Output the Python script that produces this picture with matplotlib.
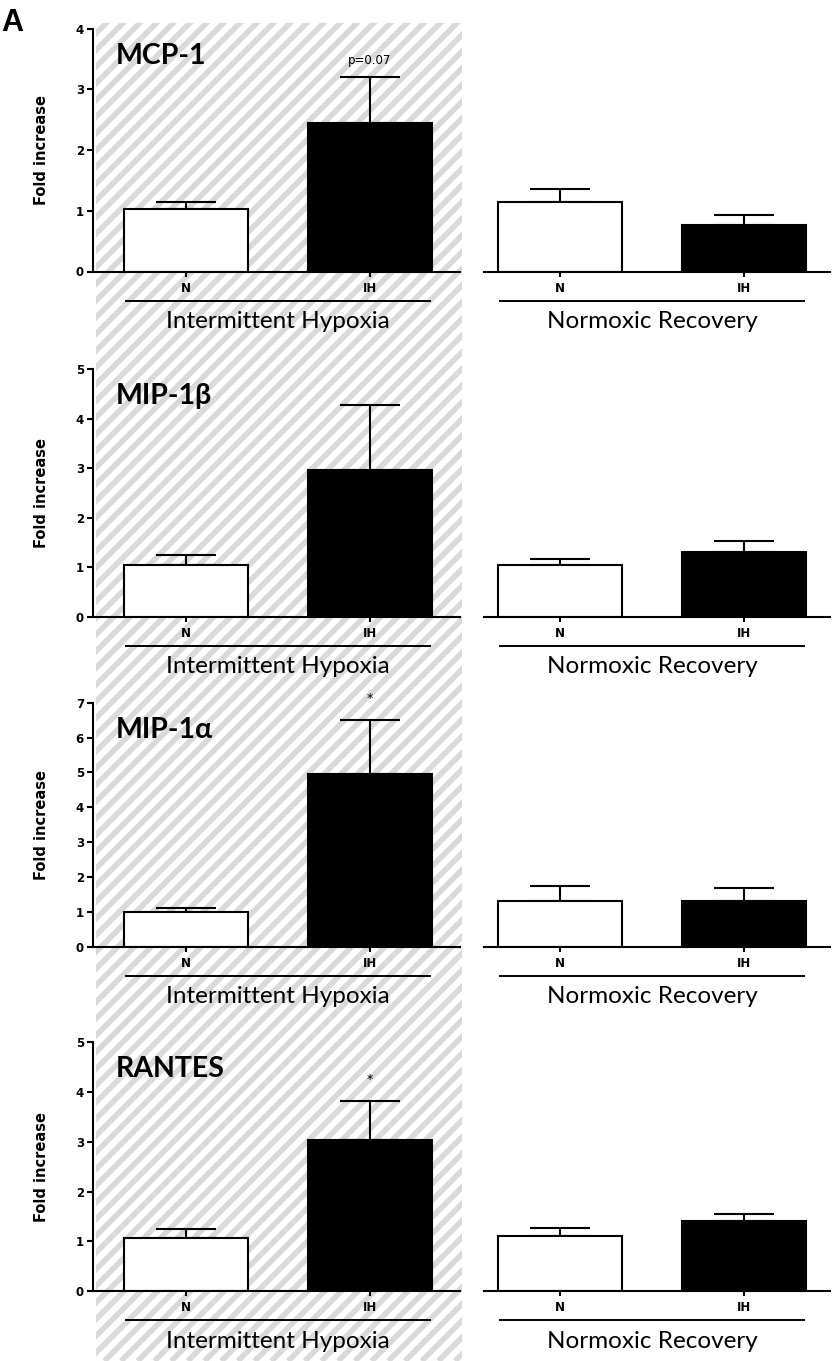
import numpy as np
import matplotlib
matplotlib.use("Agg")
from matplotlib import pyplot as plt
from matplotlib.patches import Rectangle
from matplotlib.transforms import offset_copy

# data (fold increase, mean and SEM)
cytokines = ["MCP-1", "MIP-1β", "MIP-1α", "RANTES"]
y_max = [4, 5, 7, 5]
groups = ["N", "IH"]

ih_n_mean = [1.03, 1.05, 1.00, 1.06]
ih_n_sem = [0.12, 0.19, 0.11, 0.19]
ih_ih_mean = [2.45, 2.96, 4.95, 3.04]
ih_ih_sem = [0.75, 1.32, 1.55, 0.78]

nr_n_mean = [1.15, 1.04, 1.32, 1.11]
nr_n_sem = [0.20, 0.13, 0.41, 0.15]
nr_ih_mean = [0.77, 1.31, 1.32, 1.41]
nr_ih_sem = [0.16, 0.22, 0.36, 0.13]

signif = ["p=0.07", "", "*", "*"]
conditions = ["Intermittent Hypoxia", "Normoxic Recovery"]

W, H = 836, 1361
fig = plt.figure(figsize=(W / 100, H / 100), dpi=100)

def rect(x0, x1, ytop, ybot):
    return [x0 / W, 1 - ybot / H, (x1 - x0) / W, (ybot - ytop) / H]

# striped background behind the intermittent hypoxia column
bg = fig.add_axes([0, 0, 1, 1], zorder=-5)
bg.set_xlim(0, W)
bg.set_ylim(H, 0)
bg.axis("off")
clip = Rectangle((96, 22.7), 366, H - 22.7, transform=bg.transData)
step = 16.7
for xs in np.arange(96 - H, 470, step):
    ln, = bg.plot([xs, xs + H], [H, 0], color="#d9d9d9", lw=4.0,
                  solid_capstyle="butt")
    ln.set_clip_path(clip)

# pixel rows: (top of y axis, zero line)
rows = [(28.5, 271.5), (369.3, 616.7), (702.7, 946.7), (1042.3, 1291.0)]

tick_font = dict(family="DejaVu Sans", weight="bold")
lw = 1.5
bar_w = 0.674


def panel(ax, means, sems, ymax, xlim, with_y, label):
    ax.set_facecolor("none")
    ax.bar([0, 1], means, width=bar_w, color=["white", "black"],
           edgecolor="black", linewidth=lw, zorder=2)
    ax.errorbar([0, 1], means, yerr=[[0, 0], sems], fmt="none",
                ecolor="black", elinewidth=lw, capsize=21.6, capthick=lw,
                zorder=1)
    ax.set_xlim(*xlim)
    ax.set_ylim(0, ymax)
    for s in ["top", "right"]:
        ax.spines[s].set_visible(False)
    ax.spines["bottom"].set_linewidth(lw)
    ax.set_xticks([0, 1])
    ax.set_xticklabels(groups, fontsize=8.5, **tick_font)
    ax.tick_params(axis="x", length=3.5, width=lw, pad=4)
    if with_y:
        ax.spines["left"].set_linewidth(lw)
        ax.set_yticks(range(ymax + 1))
        ax.set_yticklabels([str(v) for v in range(ymax + 1)], fontsize=8.5,
                           **tick_font)
        ax.tick_params(axis="y", length=4, width=lw, pad=2.5)
    else:
        ax.spines["left"].set_visible(False)
        ax.set_yticks([])
    # group bracket line and condition name
    tr_line = offset_copy(ax.get_xaxis_transform(), fig=fig, y=-29,
                          units="dots")
    ax.plot([-0.326, 1.326], [0, 0], color="black", lw=1.4,
            transform=tr_line, clip_on=False)
    tr_txt = offset_copy(ax.get_xaxis_transform(), fig=fig, y=-50,
                         units="dots")
    ax.text(0.5, 0, label, transform=tr_txt, ha="center", va="center",
            fontsize=17.5, family="Lato")


for i, (ytop, ybot) in enumerate(rows):
    axl = fig.add_axes(rect(93, 460, ytop, ybot))
    panel(axl, [ih_n_mean[i], ih_ih_mean[i]], [ih_n_sem[i], ih_ih_sem[i]],
          y_max[i], (-0.505, 1.489), True, conditions[0])
    axr = fig.add_axes(rect(484, 830, ytop, ybot))
    panel(axr, [nr_n_mean[i], nr_ih_mean[i]], [nr_n_sem[i], nr_ih_sem[i]],
          y_max[i], (-0.413, 1.467), False, conditions[1])

    # cytokine name
    axl.text(23 / 367, 1 - 27 / (ybot - ytop), cytokines[i],
             transform=axl.transAxes, ha="left", va="center", fontsize=20.5,
             family="Lato", weight="bold")

    # significance mark above the IH bar
    top = ih_ih_mean[i] + ih_ih_sem[i]
    if signif[i] == "*":
        axl.annotate("*", (1, top), xytext=(0, 11), textcoords="offset points",
                     ha="center", va="bottom", fontsize=9,
                     family="DejaVu Sans")
    elif signif[i]:
        axl.annotate(signif[i], (1, top), xytext=(0, 12),
                     textcoords="offset points", ha="center", va="center",
                     fontsize=8.5, family="DejaVu Sans")

    fig.text(42 / W, 1 - (ytop + ybot) / 2 / H, "Fold increase", rotation=90,
             ha="center", va="center", fontsize=10.5, **tick_font)

fig.text(1 / W, 1 - 23 / H, "A", ha="left", va="center", fontsize=22,
         family="Liberation Sans", weight="bold")

fig.savefig("out.png", dpi=100)
